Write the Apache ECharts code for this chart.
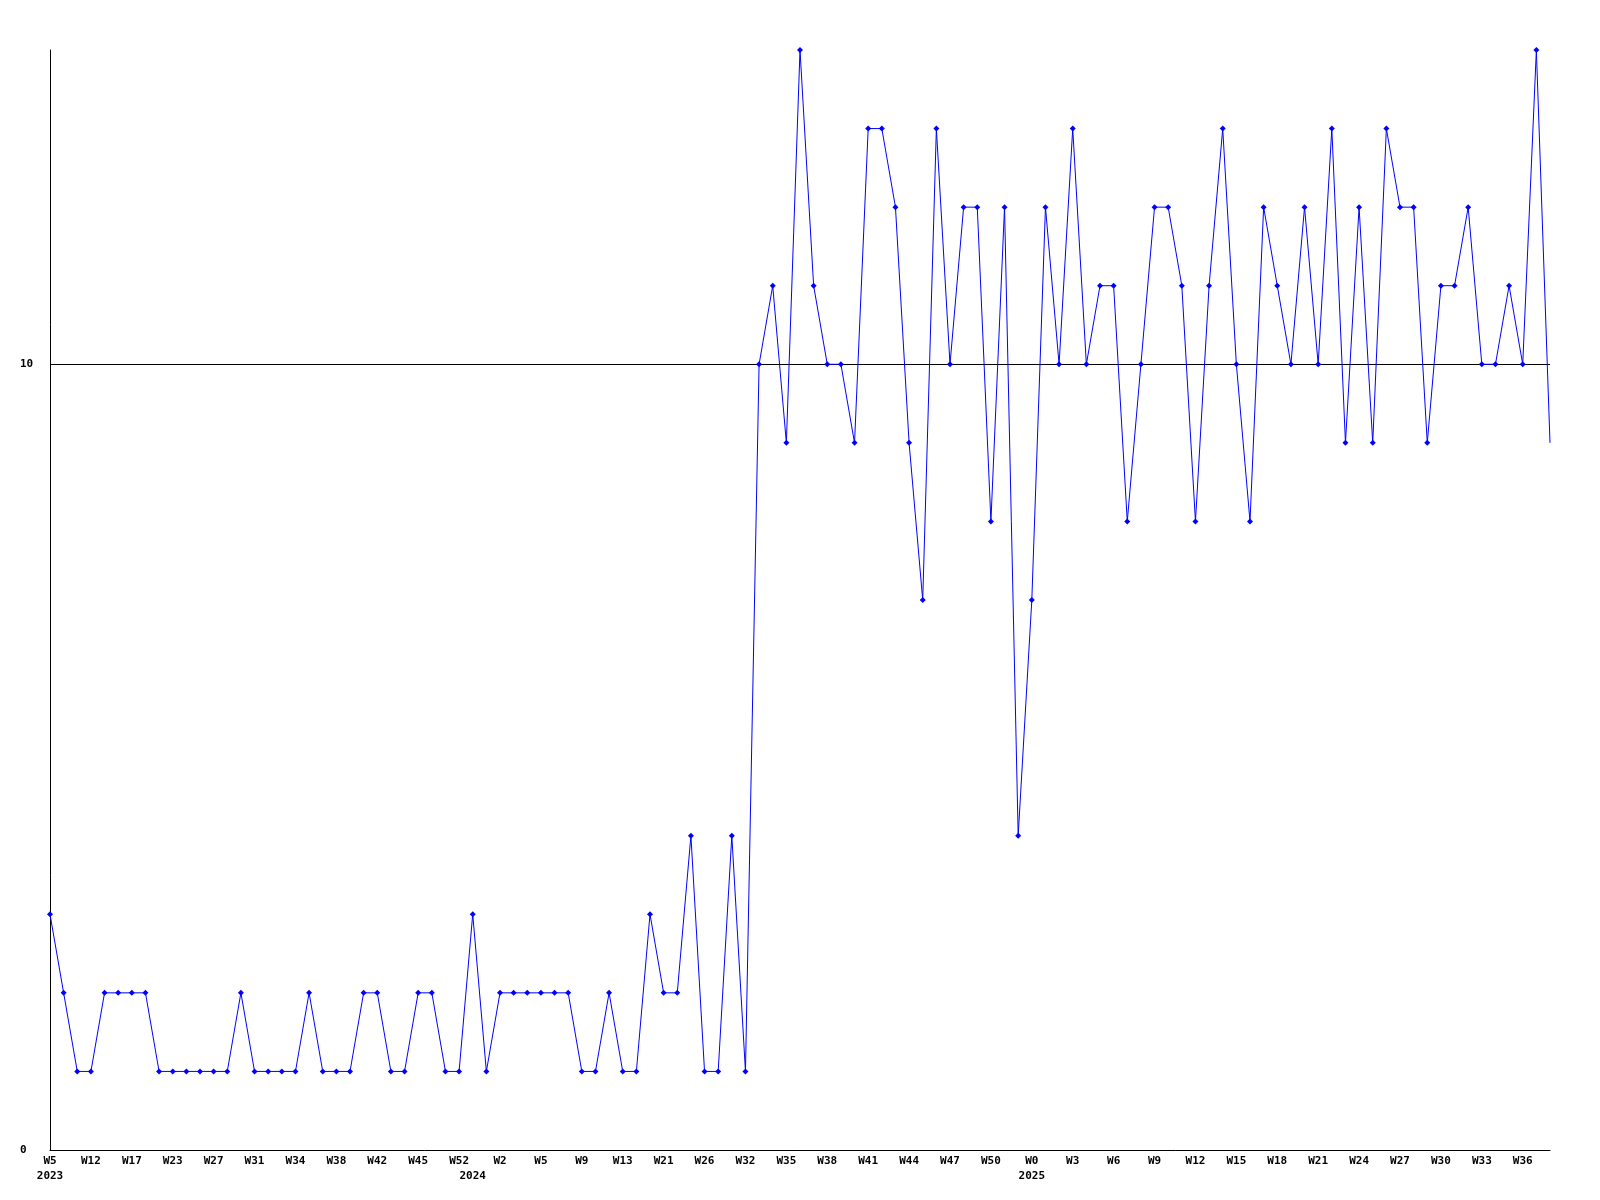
<!DOCTYPE html>
<html>
<head>
<meta charset="utf-8">
<script src="https://cdn.jsdelivr.net/npm/echarts@6/dist/echarts.min.js"></script>
<style>
html,body{margin:0;padding:0;background:#fff;}
#chart{width:1600px;height:1200px;}
</style>
</head>
<body>
<div id="chart"></div>
<script>
// weekly values, 111 points
const values = [
  3,2,1,1,2,2,2,2,1,1,1,1,1,1,2,1,1,1,1,2,1,1,1,2,2,1,1,2,
  2,1,1,3,1,2,2,2,2,2,2,1,1,2,1,1,3,2,2,4,1,1,4,1,
  10,11,9,14,11,10,10,9,13,13,12,9,7,13,10,12,12,8,12,4,7,12,10,13,10,11,11,8,10,12,
  12,11,8,11,13,10,8,12,11,10,12,10,13,9,12,9,13,12,12,9,11,11,12,10,10,11,10,14,9
];
// tick labels, one every 3rd point
const weekLabels = ['W5','W12','W17','W23','W27','W31','W34','W38','W42','W45','W52','W2','W5','W9','W13','W21','W26','W32','W35','W38','W41','W44','W47','W50','W0','W3','W6','W9','W12','W15','W18','W21','W24','W27','W30','W33','W36'];
const yearLabels = ['2023','2024','2025'];
const yearIndex = [0,31,72];
const yTickLabels = [0,10];

const categories = values.map((v,i)=>String(i));
const font = {fontFamily:'DejaVu Sans Mono', fontWeight:'bold', fontSize:11, color:'#000'};

const chart = echarts.init(document.getElementById('chart'), null, {renderer:'canvas'});
chart.setOption({
  animation:false,
  backgroundColor:'#fff',
  grid:{left:50,right:50,top:50,bottom:50,containLabel:false},
  xAxis:[{
    type:'category', data:categories, boundaryGap:false,
    axisLine:{show:true,lineStyle:{color:'#000',width:1}},
    axisTick:{show:false},
    splitLine:{show:false},
    axisLabel:Object.assign({
      interval:(i)=>i%3===0,
      formatter:(v,i)=> (i%3===0 ? weekLabels[i/3] : ''),
      margin:6
    }, font)
  },{
    type:'category', data:categories, boundaryGap:false, position:'bottom', offset:15,
    axisLine:{show:false}, axisTick:{show:false}, splitLine:{show:false},
    axisLabel:Object.assign({
      interval:(i)=>yearIndex.indexOf(i)>=0,
      formatter:(v,i)=>{const k=yearIndex.indexOf(i);return k>=0?yearLabels[k]:'';},
      margin:6
    }, font)
  }],
  yAxis:{
    type:'value', min:0, max:14, interval:10,
    axisLine:{show:true,lineStyle:{color:'#000',width:1}},
    axisTick:{show:false},
    splitLine:{show:true,showMinLine:false,showMaxLine:false,lineStyle:{color:'#000',width:1}},
    axisLabel:Object.assign({
      showMaxLabel:false,
      formatter:(v)=> (yTickLabels.indexOf(v)>=0 ? String(v) : ''),
      align:'left', margin:30
    }, font)
  },
  series:[{
    type:'line', xAxisIndex:0,
    data:values.map((v,i)=> i===values.length-1 ? {value:v,symbol:'none'} : v),
    symbol:'diamond', symbolSize:6, showAllSymbol:true,
    lineStyle:{color:'#0000ff',width:1},
    itemStyle:{color:'#0000ff'}
  }]
});
</script>
</body>
</html>
